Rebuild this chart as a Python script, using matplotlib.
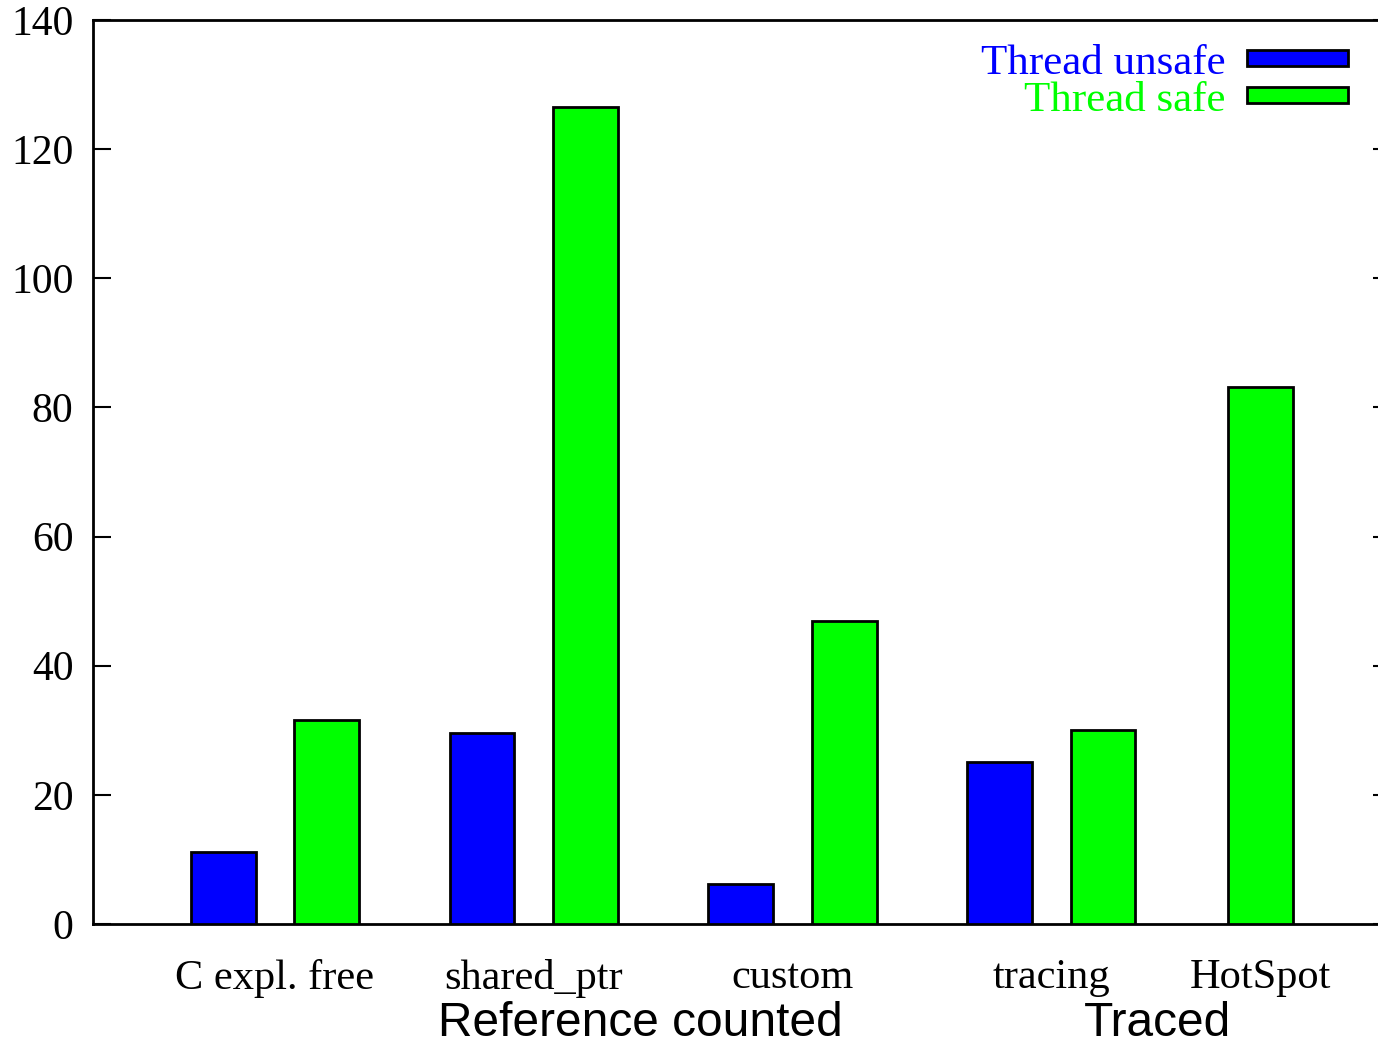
import matplotlib
matplotlib.use("Agg")
import matplotlib.pyplot as plt
import matplotlib.transforms as mtransforms
from matplotlib.patches import Rectangle
import numpy as np

# ---- data ----
categories = ["C expl. free", "shared_ptr", "custom", "tracing", "HotSpot"]
positions = [0.0, 1.0, 2.0, 3.0, 3.81]
thread_unsafe = [11.1, 29.6, 6.2, 25.1, np.nan]
thread_safe = [31.6, 126.6, 46.9, 30.0, 83.2]
series_names = ["Thread unsafe", "Thread safe"]
series_colors = ["#0000ff", "#00ff00"]
group_labels = ["Reference counted", "Traced"]
group_label_pos = [1.413, 3.409]
yticks = [0, 20, 40, 60, 80, 100, 120, 140]

W, H = 1378, 1045
fig = plt.figure(figsize=(W / 100, H / 100), dpi=100)
ax_left, ax_right = 93 / W, 1391 / W
ax_bottom, ax_top = (H - 924) / H, (H - 20) / H
ax = fig.add_axes([ax_left, ax_bottom, ax_right - ax_left, ax_top - ax_bottom])

offset = 0.2
width = 0.25
pos = np.array(positions)
unsafe = np.array(thread_unsafe, dtype=float)
safe = np.array(thread_safe, dtype=float)
has_unsafe = ~np.isnan(unsafe)

ax.bar(pos[has_unsafe] - offset, unsafe[has_unsafe], width=width,
       color=series_colors[0], edgecolor="black", linewidth=2, zorder=3)
safe_x = np.where(has_unsafe, pos + offset, pos)
ax.bar(safe_x, safe, width=width, color=series_colors[1],
       edgecolor="black", linewidth=2, zorder=3)

ax.set_xlim(-0.703, 4.313)
ax.set_ylim(0, 140)

serif = ["Liberation Serif", "DejaVu Serif"]
ax.set_yticks(yticks)
ax.set_yticklabels([str(t) for t in yticks], family=serif, fontsize=30)
ax.tick_params(axis="y", which="both", direction="in", length=13, width=1.5,
               left=True, right=True, pad=14)
ax.set_xticks(positions)
ax.set_xticklabels(categories, family=serif, fontsize=30.5)
ax.tick_params(axis="x", length=0, pad=25)

for s in ax.spines.values():
    s.set_linewidth(2)

# group labels under the category labels
trans = mtransforms.blended_transform_factory(ax.transData, fig.transFigure)
for lbl, x in zip(group_labels, group_label_pos):
    ax.text(x, (H - 1024) / H, lbl, transform=trans, ha="center", va="center",
            family=["Liberation Sans", "DejaVu Sans"], fontsize=34.5,
            clip_on=False)

# legend (gnuplot style: right-aligned coloured text, box sample to the right)
ftr = fig.transFigure
leg_rows = [(H - 58) / H, (H - 95) / H]
for name, color, yy in zip(series_names, series_colors, leg_rows):
    fig.text(1226 / W, yy - 1 / H, name, color=color, ha="right", va="center_baseline",
             family=serif, fontsize=31)
    fig.patches.append(Rectangle((1247 / W, yy - 8 / H), 101 / W, 16 / H,
                                 transform=ftr, facecolor=color,
                                 edgecolor="black", linewidth=2))

fig.savefig("out.png", dpi=100)
